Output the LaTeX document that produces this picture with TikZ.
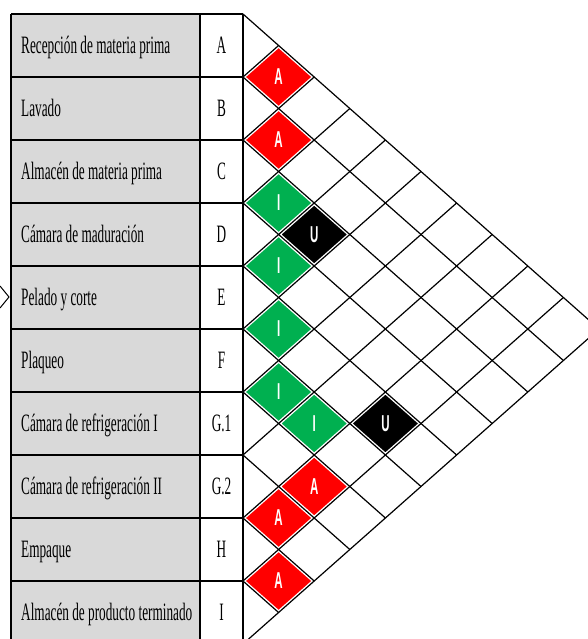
\documentclass[tikz,border=0pt]{standalone}
\usepackage{fontspec}
\usetikzlibrary{shapes.geometric}
\newfontfamily\labelfont[FakeStretch=0.53]{Liberation Serif}
\newfontfamily\cellfont[FakeStretch=0.5]{Liberation Sans}
\definecolor{relred}{RGB}{255,0,0}
\definecolor{relgreen}{RGB}{0,176,80}
\definecolor{labelgray}{RGB}{217,217,217}

\begin{document}
\begin{tikzpicture}[x=1pt,y=-1pt]
  \tikzstyle{dept}=[anchor=base west,inner sep=0pt,font=\labelfont\fontsize{25}{25}\selectfont]
  \tikzstyle{deptcode}=[anchor=base,inner sep=0pt,font=\labelfont\fontsize{25}{25}\selectfont]
  \tikzstyle{relcell}=[diamond,draw=white,line width=3pt,minimum width=71.2pt,minimum height=63pt,
    inner sep=0pt,text=white,font=\cellfont\bfseries\fontsize{23}{23}\selectfont]
  \tikzstyle{gridline}=[black,line width=1.2pt]
  \tikzstyle{tabline}=[black,line width=1.8pt]

  \useasboundingbox (0,0) rectangle (588,639);
  \clip (0,0) rectangle (588,639);

  % -- Marker on the left --
  \draw[line width=1pt] (0,286) -- (9,297) -- (0,308);

  % -- Label column --
  \fill[labelgray] (11,14) rectangle (200,644);

  % -- Relationship cells --
  \foreach \i/\j/\c/\t in {1/2/relred/A, 2/3/relred/A, 3/4/relgreen/I, 3/5/black/U,
      4/5/relgreen/I, 5/6/relgreen/I, 6/7/relgreen/I, 6/8/relgreen/I, 5/9/black/U,
      7/9/relred/A, 8/9/relred/A, 9/10/relred/A}
    \node[relcell,fill=\c] (rel\i-\j) at ({243+(\j-\i)*35.6},{14+31.5*(\i+\j-1)}) {\t};

  % -- Diagonal grid --
  \foreach \k in {0,...,9}
    \draw[gridline] (243,{14+63*\k}) -- ({243+(10-\k)*35.6},{14+31.5*(10+\k)});
  \foreach \k in {1,...,10}
    \draw[gridline] (243,{14+63*\k}) -- ({243+\k*35.6},{14+31.5*\k});

  % -- Table rules --
  \foreach \k in {0,...,10}
    \draw[tabline] (11,{14+63*\k}) -- (243,{14+63*\k});
  \foreach \xx in {11,200,243}
    \draw[tabline] (\xx,14) -- (\xx,644);

  % -- Departments --
  \foreach \name/\code [count=\k] in {Recepción de materia prima/A, Lavado/B,
      Almacén de materia prima/C, Cámara de maduración/D, Pelado y corte/E,
      Plaqueo/F, Cámara de refrigeración I/G.1, Cámara de refrigeración II/G.2,
      Empaque/H, Almacén de producto terminado/I} {
    \node[dept] (dept\k) at (21,{53.8+63*(\k-1)}) {\name};
    \node[deptcode] (code\k) at (221.5,{53.8+63*(\k-1)}) {\code};
  }
\end{tikzpicture}
\end{document}
